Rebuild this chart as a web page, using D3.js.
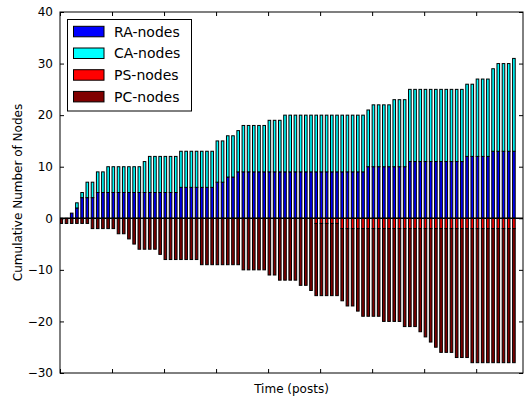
<!DOCTYPE html>
<html>
<head>
<meta charset="utf-8">
<script src="https://cdn.jsdelivr.net/npm/d3@7"></script>
<style>
  html, body { margin: 0; padding: 0; background: #fff; }
  svg { display: block; font-family: "DejaVu Sans", sans-serif; }
</style>
</head>
<body>
<svg id="chart" width="526" height="400"></svg>
<script>
// ---- data (counts per time step) ----
const seriesNames = ["RA-nodes", "CA-nodes", "PS-nodes", "PC-nodes"];
const seriesColors = ["#0000ff", "#00ffff", "#ff0000", "#800000"];

const raNodes = [0,0,1,2,4,4,4,5,5,
  5,5,5,5,5,5,5,5,5,5,5,5,5,5,
  6,6,6,6,6,6,6,
  7,7,8,8,
  9,9,9,9,9,9,9,9,9,9,9,9,9,9,9,9,9,9,9,9,9,9,9,9,9,
  10,10,10,10,10,10,10,10,
  11,11,11,11,11,11,11,11,11,11,11,
  12,12,12,12,12,
  13,13,13,13,13];

const caNodes = [0,0,0,1,1,3,3,4,4,
  5,5,5,5,5,5,5,
  6,
  7,7,7,7,7,7,
  7,7,7,7,7,7,7,
  8,8,8,8,8,
  9,9,9,9,9,
  10,10,10,
  11,11,11,11,11,11,11,11,11,11,11,11,11,11,11,11,
  11,
  12,12,12,12,
  13,13,13,
  14,14,14,14,14,14,14,14,14,14,14,
  14,14,
  15,15,15,
  16,
  17,17,17,
  18];

// drawn below zero
const psNodes = [0,0,0,0,0,0,0,0,0,0,0,0,0,0,0,0,0,0,0,0,0,0,0,0,0,0,0,0,0,0,0,0,0,0,0,0,0,0,0,0,0,0,0,0,0,0,0,0,0,
  1,1,1,1,1,
  2,2,2,2,2,2,2,2,2,2,2,2,2,2,2,2,2,2,2,2,2,2,2,2,2,2,2,2,2,2,2,2,2,2];

const pcNodes = [1,1,1,1,1,1,
  2,2,2,2,2,
  3,3,
  4,
  5,
  6,6,6,6,
  7,
  8,8,8,8,8,8,8,
  9,9,9,9,9,9,9,9,
  10,10,10,10,10,
  11,11,
  12,12,12,12,
  13,13,
  14,
  14,14,14,14,14,
  14,
  15,15,
  16,
  17,17,17,17,
  18,18,18,18,
  19,19,19,
  20,
  21,
  22,
  23,
  24,24,24,
  25,25,25,
  26,26,26,26,26,26,26,26,26];

const yTickValues = [-30, -20, -10, 0, 10, 20, 30, 40];
const xTickValues = [0, 10, 20, 30, 40, 50, 60, 70, 80];
const xDomain = [0, 89];
const yDomain = [-30, 40];
const xLabel = "Time (posts)";
const yLabel = "Cumulative Number of Nodes";

// ---- layout ----
const W = 526, H = 400;
const m = { left: 60, right: 3, top: 12, bottom: 27 };
const x0 = m.left, x1 = W - m.right, y0 = m.top, y1 = H - m.bottom;
const barWidth = 0.5;

const svg = d3.select("#chart");
const x = d3.scaleLinear().domain(xDomain).range([x0, x1]);
const y = d3.scaleLinear().domain(yDomain).range([y1, y0]);

// build stacked segments
const segs = [];
raNodes.forEach((v, i) => {
  const ra = raNodes[i], ca = caNodes[i], ps = psNodes[i], pc = pcNodes[i];
  segs.push({ i, s: 0, lo: 0, hi: ra });
  segs.push({ i, s: 1, lo: ra, hi: ra + ca });
  segs.push({ i, s: 2, lo: -ps, hi: 0 });
  segs.push({ i, s: 3, lo: -(ps + pc), hi: -ps });
});

const plot = svg.append("g");
plot.append("defs").append("clipPath").attr("id", "clip")
  .append("rect").attr("x", x0).attr("y", y0).attr("width", x1 - x0).attr("height", y1 - y0);

const gBars = plot.append("g").attr("clip-path", "url(#clip)");
gBars.selectAll("rect").data(segs.filter(d => d.hi - d.lo > 0)).join("rect")
  .attr("x", d => x(d.i))
  .attr("width", d => x(d.i + barWidth) - x(d.i))
  .attr("y", d => y(d.hi))
  .attr("height", d => y(d.lo) - y(d.hi))
  .attr("fill", d => seriesColors[d.s])
  .attr("stroke", "#000")
  .attr("stroke-width", 1);

// zero line
gBars.append("line")
  .attr("x1", x0).attr("x2", x1)
  .attr("y1", y(0)).attr("y2", y(0))
  .attr("stroke", "#000").attr("stroke-width", 1.5);

// axes (inward ticks on all four sides)
const fmt = d => (d < 0 ? "\u2212" + Math.abs(d) : String(d));
const tickLen = 4;
const gl = svg.append("g").attr("transform", `translate(${x0},0)`)
  .call(d3.axisLeft(y).tickValues(yTickValues).tickFormat(fmt).tickSizeInner(-tickLen).tickSizeOuter(0).tickPadding(7));
const gr = svg.append("g").attr("transform", `translate(${x1},0)`)
  .call(d3.axisRight(y).tickValues(yTickValues).tickFormat("").tickSizeInner(-tickLen).tickSizeOuter(0));
const gb = svg.append("g").attr("transform", `translate(0,${y1})`)
  .call(d3.axisBottom(x).tickValues(xTickValues).tickFormat("").tickSizeInner(-tickLen).tickSizeOuter(0));
const gt = svg.append("g").attr("transform", `translate(0,${y0})`)
  .call(d3.axisTop(x).tickValues(xTickValues).tickFormat("").tickSizeInner(-tickLen).tickSizeOuter(0));
[gl, gr, gb, gt].forEach(g => {
  g.select(".domain").remove();
  g.selectAll(".tick line").attr("stroke", "#000").attr("stroke-width", 1);
  g.selectAll("text").attr("font-family", "DejaVu Sans").attr("font-size", 12).attr("fill", "#000");
});

// frame
svg.append("rect").attr("x", x0).attr("y", y0).attr("width", x1 - x0).attr("height", y1 - y0)
  .attr("fill", "none").attr("stroke", "#000").attr("stroke-width", 1);

// axis labels
svg.append("text").attr("x", (x0 + x1) / 2).attr("y", 393)
  .attr("text-anchor", "middle").attr("font-size", 12).text(xLabel);
svg.append("text").attr("transform", `translate(22,${(y0 + y1) / 2}) rotate(-90)`)
  .attr("text-anchor", "middle").attr("font-size", 12).text(yLabel);

// legend
const lg = svg.append("g");
lg.append("rect").attr("x", 67.5).attr("y", 19.5).attr("width", 124).attr("height", 91.5)
  .attr("fill", "#fff").attr("stroke", "#000").attr("stroke-width", 1);
seriesNames.forEach((name, k) => {
  const cy = 31.5 + k * 21.7;
  lg.append("rect").attr("x", 73.5).attr("y", cy - 5.2).attr("width", 30.5).attr("height", 10.5)
    .attr("fill", seriesColors[k]).attr("stroke", "#000").attr("stroke-width", 1);
  lg.append("text").attr("x", 114).attr("y", cy + 5).attr("font-size", 14).text(name);
});
</script>
</body>
</html>
